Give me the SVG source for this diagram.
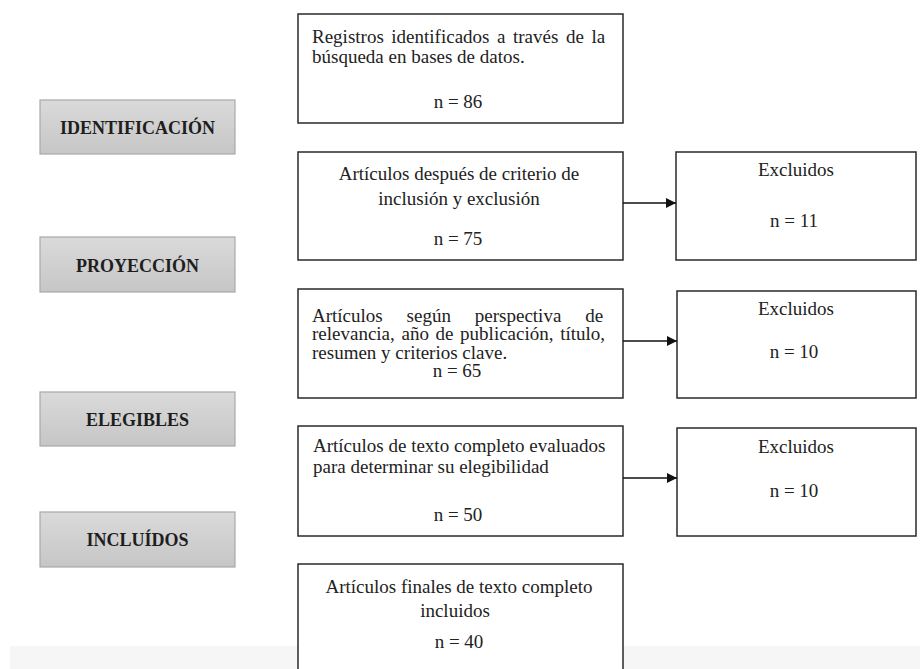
<svg xmlns="http://www.w3.org/2000/svg" width="920" height="669" viewBox="0 0 920 669">
<defs>
<linearGradient id="g" x1="0" y1="0" x2="0" y2="1">
<stop offset="0" stop-color="#dadada"/>
<stop offset="1" stop-color="#c6c6c6"/>
</linearGradient>
<marker id="ah" viewBox="0 0 10 10" refX="10" refY="5" markerWidth="10" markerHeight="10" markerUnits="userSpaceOnUse" orient="auto">
<path d="M0,0 L10,5 L0,10 z" fill="#111"/>
</marker>
<style>
.box{fill:#fff;stroke:#2a2a2a;stroke-width:1.5}
.lab{fill:url(#g);stroke:#a8a8a8;stroke-width:1.2}
.lt{font-family:"Liberation Serif","Times New Roman",serif;font-size:18px;font-weight:bold;fill:#1e1e1e;text-anchor:middle}
.t{font-family:"Liberation Serif","Times New Roman",serif;font-size:19px;fill:#222}
.c{text-anchor:middle}
.con{stroke:#111;stroke-width:1.5;fill:none}
</style>
</defs>
<rect x="10" y="646" width="910" height="23" fill="#f6f6f6"/>
<g id="lab-identificacion"><rect class="lab" x="40" y="100" width="195" height="54"/><text class="lt" x="137.5" y="134">IDENTIFICACIÓN</text></g>
<g id="lab-proyeccion"><rect class="lab" x="40" y="237" width="195" height="55"/><text class="lt" x="137.5" y="272">PROYECCIÓN</text></g>
<g id="lab-elegibles"><rect class="lab" x="40" y="392" width="195" height="54"/><text class="lt" x="137.5" y="426">ELEGIBLES</text></g>
<g id="lab-incluidos"><rect class="lab" x="40" y="512" width="195" height="55"/><text class="lt" x="137.5" y="546">INCLUÍDOS</text></g>
<g id="b1"><rect class="box" x="298" y="14" width="325" height="109"/>
<text class="t" x="312" y="43" word-spacing="2.8">Registros identificados a través de la</text>
<text class="t" x="312" y="63">búsqueda en bases de datos.</text>
<text class="t c" x="458" y="108">n = 86</text></g>
<g id="b2"><rect class="box" x="298" y="152" width="325" height="108"/>
<text class="t c" x="459" y="180">Artículos después de criterio de</text>
<text class="t c" x="459" y="205">inclusión y exclusión</text>
<text class="t c" x="458" y="245">n = 75</text></g>
<g id="b3"><rect class="box" x="298" y="289" width="325" height="109"/>
<text class="t" y="322"><tspan x="312">Artículos</tspan><tspan x="406.6">según</tspan><tspan x="474.8">perspectiva</tspan><tspan x="585.2">de</tspan></text>
<text class="t" x="312" y="340" word-spacing="1.9">relevancia, año de publicación, título,</text>
<text class="t" x="312" y="358.5">resumen y criterios clave.</text>
<text class="t c" x="457" y="377">n = 65</text></g>
<g id="b4"><rect class="box" x="298" y="426" width="325" height="110"/>
<text class="t" x="313" y="452">Artículos de texto completo evaluados</text>
<text class="t" x="313" y="473">para determinar su elegibilidad</text>
<text class="t c" x="458" y="521">n = 50</text></g>
<g id="b5"><rect class="box" x="298" y="564" width="325" height="115"/>
<text class="t c" x="459" y="593">Artículos finales de texto completo</text>
<text class="t c" x="455" y="617">incluidos</text>
<text class="t c" x="459" y="648">n = 40</text></g>
<g id="e1"><rect class="box" x="676" y="152" width="240" height="108"/>
<text class="t c" x="796" y="176">Excluidos</text>
<text class="t c" x="794" y="227">n = 11</text></g>
<g id="e2"><rect class="box" x="677" y="291" width="239" height="107"/>
<text class="t c" x="796" y="315">Excluidos</text>
<text class="t c" x="794" y="358">n = 10</text></g>
<g id="e3"><rect class="box" x="677" y="428" width="239" height="108"/>
<text class="t c" x="796" y="453">Excluidos</text>
<text class="t c" x="794" y="497">n = 10</text></g>
<g id="connectors">
<line class="con" x1="623" y1="203" x2="676" y2="203" marker-end="url(#ah)"/>
<line class="con" x1="623" y1="341" x2="677" y2="341" marker-end="url(#ah)"/>
<line class="con" x1="623" y1="478" x2="677" y2="478" marker-end="url(#ah)"/>
</g>
</svg>
